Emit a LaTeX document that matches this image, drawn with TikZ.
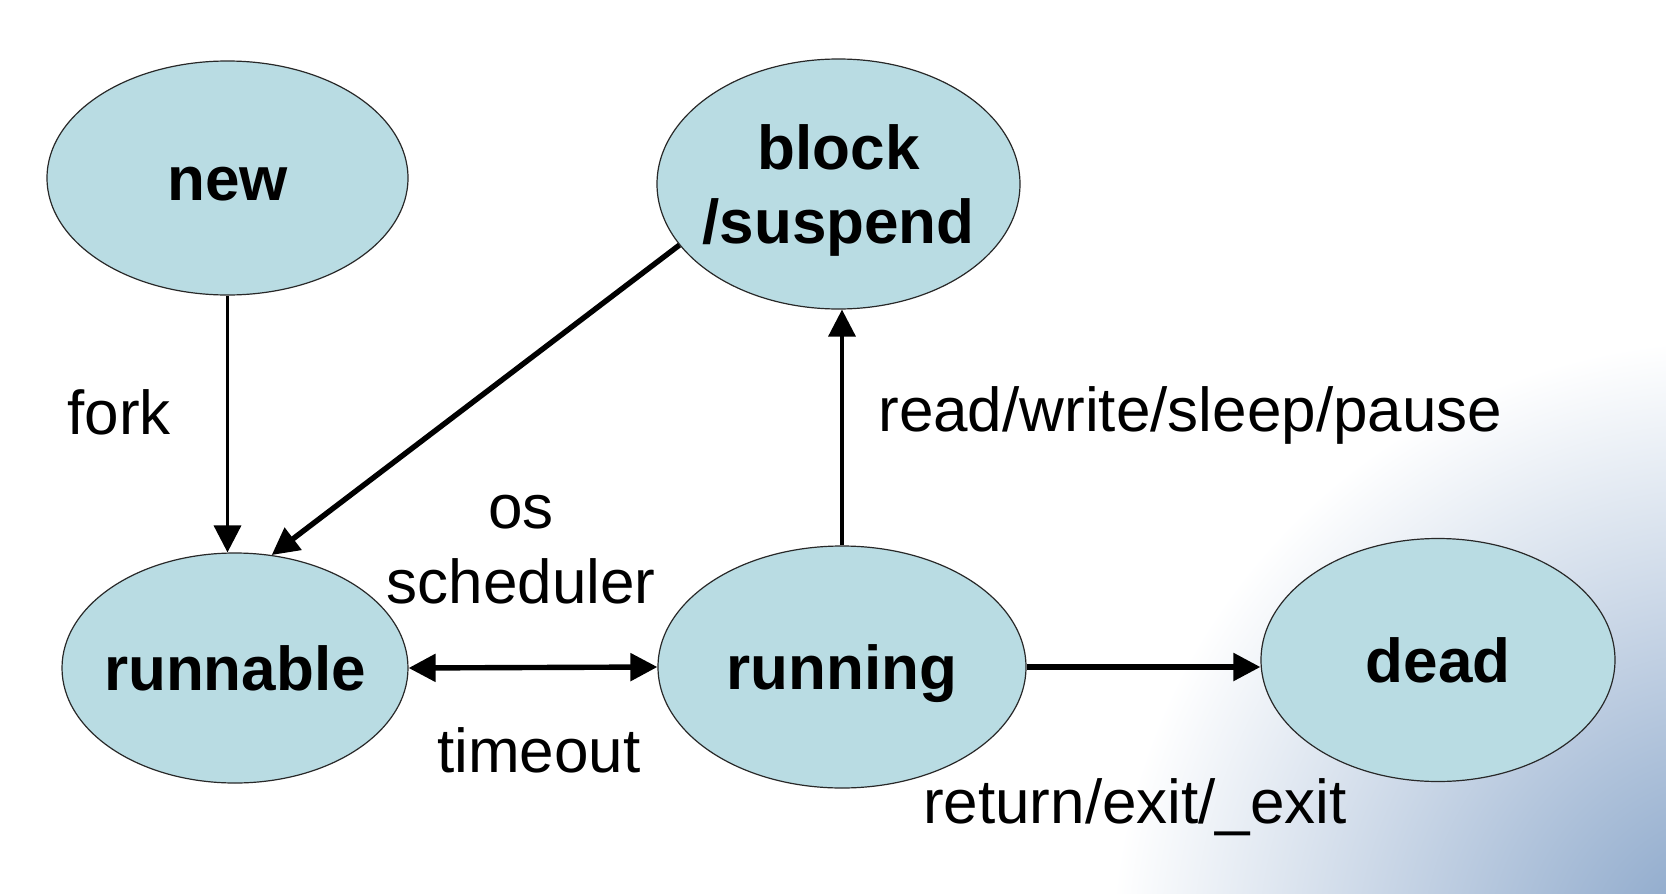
\documentclass[tikz,border=0pt]{standalone}
\usepackage{fontspec}
\setmainfont{Liberation Sans}
\usetikzlibrary{arrows.meta,shapes.geometric}
\definecolor{statefill}{RGB}{185,220,227}
\definecolor{statedraw}{RGB}{40,40,40}
\definecolor{bgblue}{RGB}{130,160,198}
\newcommand{\zw}[1]{\makebox[0pt]{#1}}
\tikzset{
  state/.style={ellipse,draw=statedraw,line width=0.6pt,fill=statefill,inner sep=0pt,
    font=\fontsize{31}{37}\selectfont\bfseries,text height=22pt,text depth=0pt},
  lbl/.style={font=\fontsize{31}{37}\selectfont,inner sep=0pt},
  thin arrow/.style={line width=1.8pt,-{Triangle[length=13.5pt,width=13.5pt]}},
  thick arrow/.style={line width=2.7pt,-{Triangle[length=13.5pt,width=13.5pt]}},
  both arrow/.style={line width=2.7pt,{Triangle[length=13.5pt,width=13.5pt]}-{Triangle[length=13.5pt,width=13.5pt]}}
}
\begin{document}
\begin{tikzpicture}[x=0.5pt,y=-0.5pt]
\useasboundingbox (0,0) rectangle (1666,894);
\fill[white] (0,0) rectangle (1666,894);
\begin{scope}
\clip (0,0) rectangle (1666,894);
\shade[inner color=bgblue,outer color=white] (1730,960) circle (620);
\end{scope}
% states
\node[state,minimum width=180.5pt,minimum height=117pt] (new) at (227.5,178) {\zw{new}};
\node[state,minimum width=181.5pt,minimum height=125pt,text height=,align=center,
      font=\fontsize{31}{37}\selectfont\bfseries] (block) at (838.5,184) {\zw{block}\\\zw{/suspend}};
\node[state,minimum width=173pt,minimum height=115pt] (runnable) at (235,668) {\zw{runnable}};
\node[state,minimum width=184pt,minimum height=121pt] (running) at (842,667) {\zw{running}};
\node[state,minimum width=177pt,minimum height=121.5pt] (dead) at (1438,660) {\zw{dead}};
% connectors
\draw[thin arrow] (new.south) -- (new.south |- runnable.north);
\draw[thick arrow] (block.201) -- (runnable.72);
\draw[thin arrow] (running.north) -- (running.north |- block.south);
\draw[both arrow] (runnable.east) -- (running.west);
\draw[thick arrow] (running.east) -- (running.east -| dead.west);
% labels
\node[lbl,anchor=base west] (lfork) at (67,434) {fork};
\node[lbl,anchor=base west] (lrw) at (878,431) {read/write/sleep/pause};
\node[lbl,anchor=base] (los) at (521,528) {os};
\node[lbl,anchor=base] (lsched) at (521,603) {scheduler};
\node[lbl,anchor=base] (ltime) at (539,772) {timeout};
\node[lbl,anchor=base] (lret) at (1135,823) {return/exit/\_exit};
\end{tikzpicture}
\end{document}
